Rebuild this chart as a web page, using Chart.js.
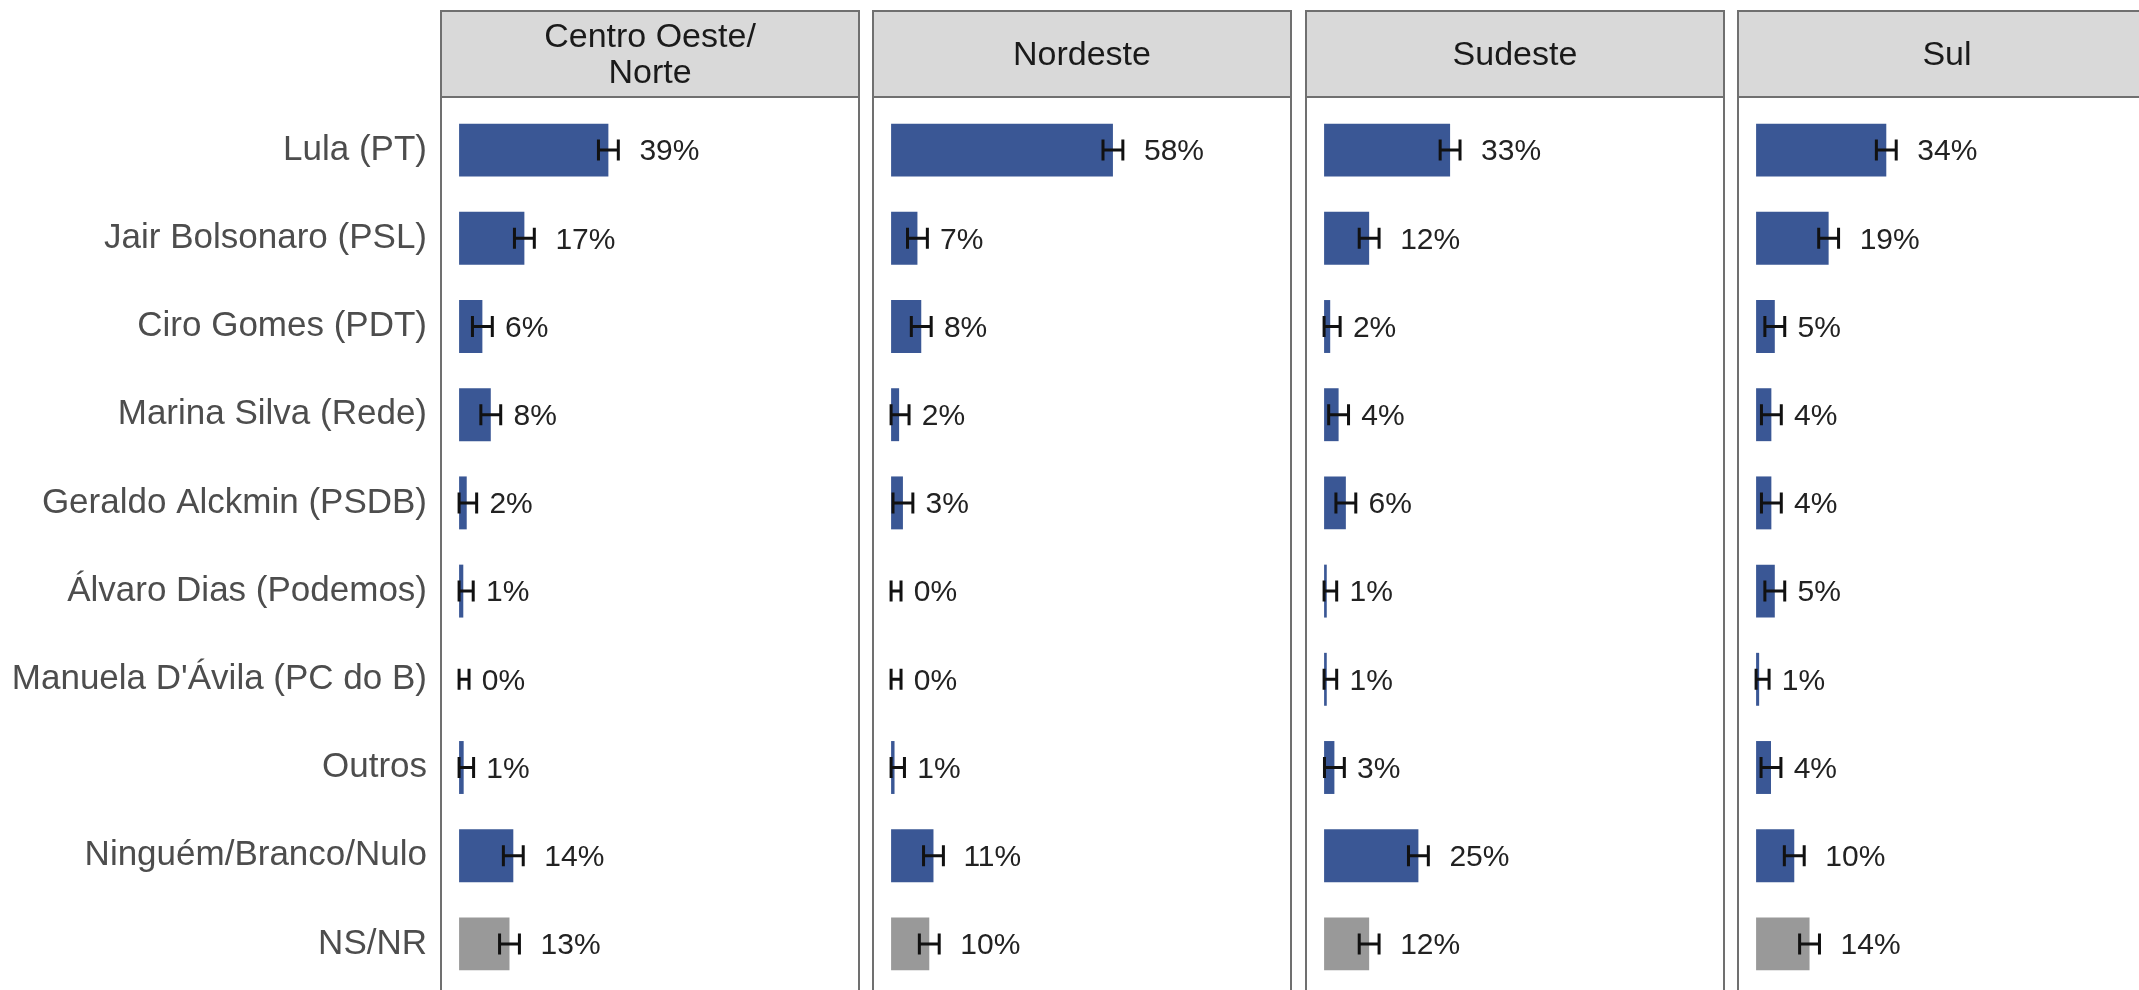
<!DOCTYPE html>
<html>
<head>
<meta charset="utf-8">
<script src="https://cdn.jsdelivr.net/npm/chart.js@4/dist/chart.umd.min.js"></script>
<style>
  html, body { margin: 0; padding: 0; background: #ffffff; overflow: hidden; width: 2139px; height: 990px; }
  .panel { position: absolute; top: 0; height: 1000px; }
</style>
</head>
<body>
<div class="panel" id="p0" style="left:0px;width:860px"><canvas id="c0"></canvas></div>
<div class="panel" id="p1" style="left:872px;width:420px"><canvas id="c1"></canvas></div>
<div class="panel" id="p2" style="left:1305px;width:420px"><canvas id="c2"></canvas></div>
<div class="panel" id="p3" style="left:1737px;width:420px"><canvas id="c3"></canvas></div>
<script>
// ---- data ----
const categories = [
  'Lula (PT)', 'Jair Bolsonaro (PSL)', 'Ciro Gomes (PDT)', 'Marina Silva (Rede)',
  'Geraldo Alckmin (PSDB)', 'Álvaro Dias (Podemos)', "Manuela D'Ávila (PC do B)",
  'Outros', 'Ninguém/Branco/Nulo', 'NS/NR'
];
const regionTitles = [['Centro Oeste/', 'Norte'], ['Nordeste'], ['Sudeste'], ['Sul']];
const centroOesteNorte = [39.1, 17.1, 6.1, 8.3, 2.0, 1.1, 0.0, 1.2, 14.2, 13.2];
const nordeste        = [58.1, 6.9, 7.9, 2.1, 3.1, 0.0, 0.0, 0.9, 11.1, 10.0];
const sudeste         = [33.0, 11.8, 1.6, 3.8, 5.7, 0.7, 0.7, 2.7, 24.7, 11.8];
const sul             = [34.1, 19.0, 4.9, 4.0, 4.0, 4.9, 0.8, 3.9, 10.0, 14.0];
const marginOfError = 2.6;
const xLimits = [-5, 105];

const regionValues = [centroOesteNorte, nordeste, sudeste, sul];
const BLUE = '#3a5795';
const GREY = '#999999';
const FONT = "'Liberation Sans', Arial, Helvetica, sans-serif";
Chart.defaults.font.family = FONT;

const HEADER_TOP = 10, HEADER_BOTTOM = 97, PANEL_BOTTOM = 997;

const facetPlugin = {
  id: 'facet',
  beforeDraw(chart) {
    const { ctx, chartArea: a } = chart;
    const titleLines = chart.options.plugins.facet.title;
    const w = a.right - a.left;
    ctx.save();
    ctx.fillStyle = '#d9d9d9';
    ctx.fillRect(a.left, HEADER_TOP, w, HEADER_BOTTOM - HEADER_TOP);
    ctx.strokeStyle = '#707070';
    ctx.lineWidth = 2;
    ctx.strokeRect(a.left + 1, HEADER_TOP + 1, w - 2, HEADER_BOTTOM - HEADER_TOP - 1);
    ctx.strokeRect(a.left + 1, HEADER_BOTTOM, w - 2, PANEL_BOTTOM - HEADER_BOTTOM);
    ctx.fillStyle = '#1a1a1a';
    ctx.font = '34px ' + FONT;
    ctx.textAlign = 'center';
    ctx.textBaseline = 'middle';
    const cx = (a.left + a.right) / 2;
    const mid = (HEADER_TOP + HEADER_BOTTOM) / 2 + 2;
    const lh = 36;
    titleLines.forEach((t, i) => {
      const y = mid + (i - (titleLines.length - 1) / 2) * lh;
      ctx.fillText(t, cx, y);
    });
    ctx.restore();
  },
  afterDatasetsDraw(chart) {
    const { ctx } = chart;
    const xs = chart.scales.x, ys = chart.scales.y;
    const vals = chart.data.datasets[0].data;
    ctx.save();
    ctx.strokeStyle = '#111111';
    ctx.lineWidth = 3;
    ctx.font = '30px ' + FONT;
    ctx.fillStyle = '#222222';
    ctx.textBaseline = 'middle';
    ctx.textAlign = 'left';
    vals.forEach((v, i) => {
      const y = ys.getPixelForValue(i);
      const lo = xs.getPixelForValue(Math.max(0, v - marginOfError));
      const hi = xs.getPixelForValue(v + marginOfError);
      const cap = 10.5;
      ctx.beginPath();
      ctx.moveTo(lo, y); ctx.lineTo(hi, y);
      ctx.moveTo(lo, y - cap); ctx.lineTo(lo, y + cap);
      ctx.moveTo(hi, y - cap); ctx.lineTo(hi, y + cap);
      ctx.stroke();
      const label = Math.round(v) + '%';
      const tw = ctx.measureText(label).width;
      ctx.fillText(label, xs.getPixelForValue(v) + 0.5 * tw + 1, y + 2);
    });
    ctx.restore();
  }
};

function makeChart(idx) {
  const showY = idx === 0;
  const vals = regionValues[idx];
  const colors = categories.map((c, i) => i === categories.length - 1 ? GREY : BLUE);
  return new Chart(document.getElementById('c' + idx), {
    type: 'bar',
    data: {
      labels: categories,
      datasets: [{
        data: vals,
        backgroundColor: colors,
        borderWidth: 0,
        barPercentage: 0.6,
        categoryPercentage: 1.0
      }]
    },
    options: {
      indexAxis: 'y',
      responsive: true,
      maintainAspectRatio: false,
      animation: false,
      events: [],
      layout: { autoPadding: false, padding: { top: 106, bottom: 12, left: 0, right: 0 } },
      scales: {
        x: {
          type: 'linear', min: xLimits[0], max: xLimits[1],
          display: false,
          grid: { display: false }
        },
        y: {
          type: 'category',
          offset: true,
          display: showY,
          grid: { display: false, drawTicks: false },
          border: { display: false },
          ticks: {
            color: '#4d4d4d',
            font: { size: 35, family: FONT },
            padding: 13,
            autoSkip: false
          },
          afterFit(scale) {
            if (showY) scale.width = 440;
            scale.paddingTop = 0;
            scale.paddingBottom = 0;
          }
        }
      },
      plugins: {
        legend: { display: false },
        tooltip: { enabled: false },
        title: { display: false },
        facet: { title: regionTitles[idx] }
      }
    },
    plugins: [facetPlugin]
  });
}
[0, 1, 2, 3].forEach(makeChart);
</script>
</body>
</html>
